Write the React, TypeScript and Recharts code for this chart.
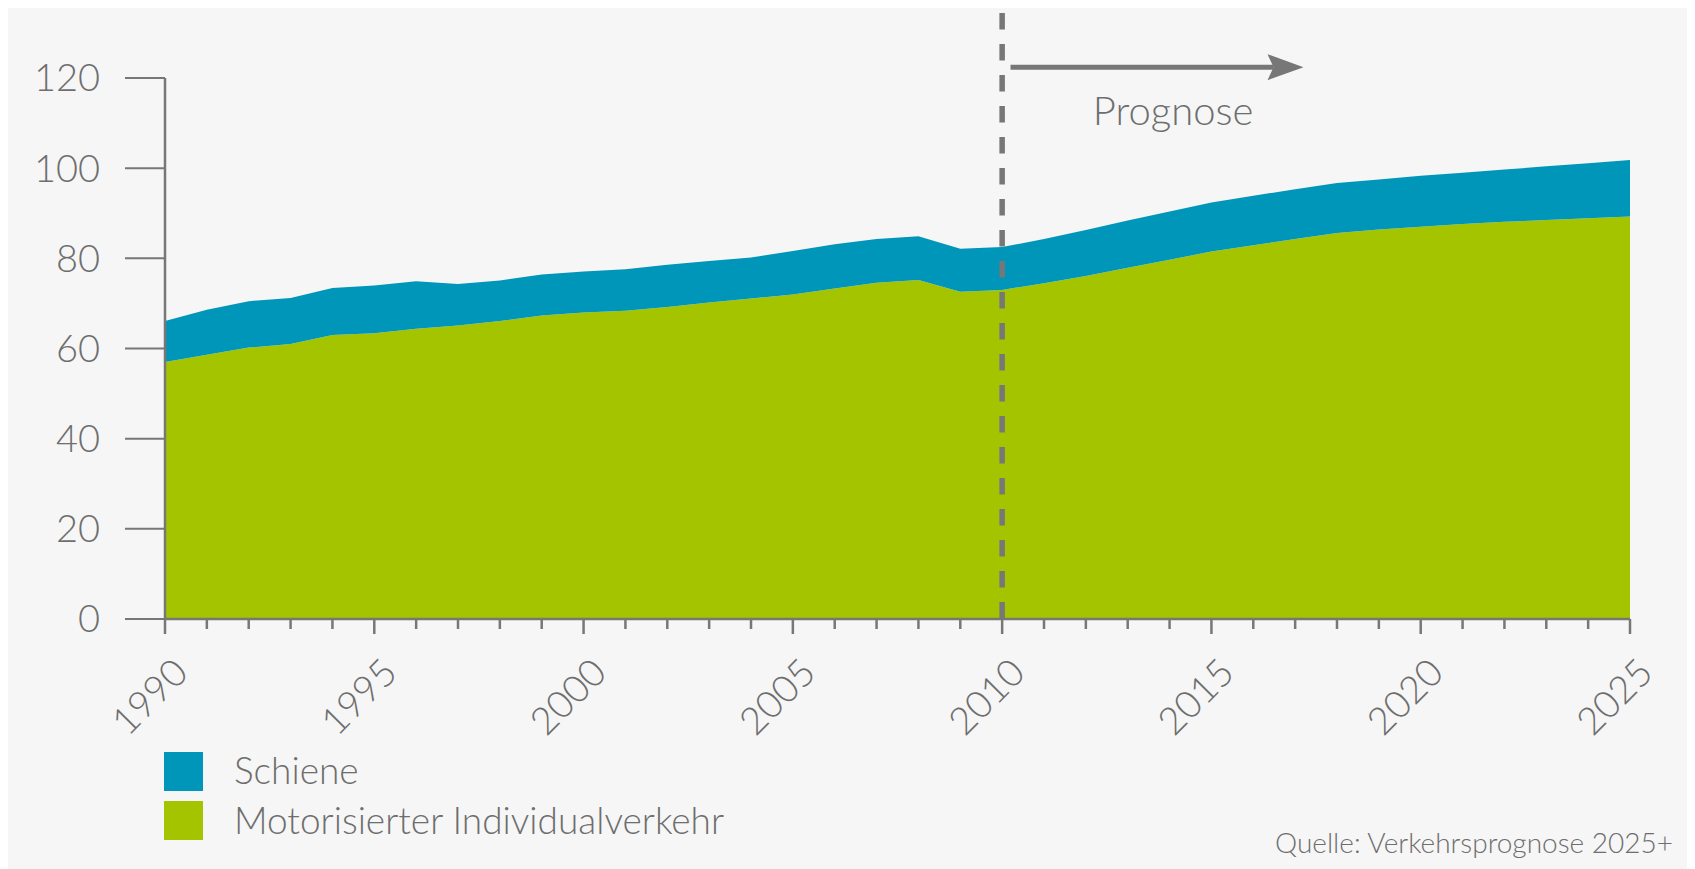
import { AreaChart, Area, XAxis, YAxis, ReferenceLine } from 'recharts';

const years = [
  1990, 1991, 1992, 1993, 1994, 1995, 1996, 1997, 1998, 1999,
  2000, 2001, 2002, 2003, 2004, 2005, 2006, 2007, 2008, 2009,
  2010, 2011, 2012, 2013, 2014, 2015, 2016, 2017, 2018, 2019,
  2020, 2021, 2022, 2023, 2024, 2025,
];

// Motorisierter Individualverkehr
const individualverkehr = [
  57.0, 58.6, 60.2, 61.0, 63.0, 63.4, 64.4, 65.1, 66.1, 67.3,
  68.0, 68.4, 69.2, 70.2, 71.1, 72.0, 73.3, 74.6, 75.2, 72.6,
  73.0, 74.5, 76.1, 77.9, 79.7, 81.5, 82.9, 84.3, 85.6, 86.4,
  87.0, 87.6, 88.1, 88.5, 88.9, 89.3,
];

// Schiene (stacked on top)
const schiene = [
  9.1, 10.0, 10.3, 10.2, 10.4, 10.6, 10.5, 9.2, 9.0, 9.1,
  9.1, 9.2, 9.4, 9.2, 9.1, 9.6, 9.8, 9.7, 9.7, 9.5,
  9.5, 9.8, 10.2, 10.5, 10.7, 10.9, 11.0, 11.0, 11.1, 11.1,
  11.3, 11.4, 11.6, 11.9, 12.2, 12.5,
];

const yTicks = [0, 20, 40, 60, 80, 100, 120];
const prognoseStart = 2010;

const data = years.map((year, i) => ({
  year,
  miv: individualverkehr[i],
  schiene: schiene[i],
}));

const GRAY = '#777777';
const TEXT = '#6e6e6e';
const BLUE = '#0096b9';
const GREEN = '#a5c400';
const FONT = "Lato, 'Open Sans', sans-serif";

const YearTick = (props: any) => {
  const { x, y, payload } = props;
  const major = payload.value % 5 === 0;
  return (
    <g>
      <line x1={x} y1={y} x2={x} y2={y + (major ? 15 : 10)} stroke={GRAY} strokeWidth={2.5} />
      {major && (
        <text
          x={x + 25}
          y={y + 56}
          textAnchor="end"
          fill={TEXT}
          fontSize={38}
          fontFamily={FONT}
          fontWeight={300}
          transform={`rotate(-45, ${x + 25}, ${y + 56})`}
        >
          {payload.value}
        </text>
      )}
    </g>
  );
};

const PrognoseArrow = (props: any) => {
  const { x1, y1, x2 } = props;
  const len = x2 - x1;
  return (
    <g>
      <line x1={x1} y1={y1} x2={x2 - 30} y2={y1} stroke={GRAY} strokeWidth={5} />
      <polygon
        points={`${x2},${y1} ${x2 - 36},${y1 - 13} ${x2 - 30},${y1} ${x2 - 36},${y1 + 13}`}
        fill={GRAY}
      />
      <text
        x={x1 + len * 0.555}
        y={y1 + 58}
        textAnchor="middle"
        fill={TEXT}
        fontSize={40}
        fontFamily={FONT}
        fontWeight={300}
      >
        Prognose
      </text>
    </g>
  );
};

export default function App() {
  return (
    <div style={{ position: 'relative', width: 1687, height: 861, background: '#f6f6f6' }}>
      <style>{`html,body{overflow:hidden}`}</style>
      <AreaChart
        width={1687}
        height={861}
        data={data}
        margin={{ top: 70, right: 65, bottom: 150, left: 0 }}
      >
        <XAxis
          dataKey="year"
          type="number"
          domain={[1990, 2025]}
          ticks={years}
          interval={0}
          height={100}
          tickSize={0}
          tickMargin={0}
          tickLine={false}
          axisLine={{ stroke: GRAY, strokeWidth: 2.5 }}
          tick={<YearTick />}
        />
        <YAxis
          domain={[0, 120]}
          ticks={yTicks}
          width={157}
          tickSize={40}
          tickMargin={25}
          axisLine={{ stroke: GRAY, strokeWidth: 2.5 }}
          tickLine={{ stroke: GRAY, strokeWidth: 2 }}
          tick={{ fill: TEXT, fontSize: 38, fontFamily: FONT, fontWeight: 300 }}
        />
        <Area
          type="linear"
          dataKey="miv"
          stackId="a"
          stroke="none"
          fill={GREEN}
          fillOpacity={1}
          isAnimationActive={false}
        />
        <Area
          type="linear"
          dataKey="schiene"
          stackId="a"
          stroke="none"
          fill={BLUE}
          fillOpacity={1}
          isAnimationActive={false}
        />
        <ReferenceLine
          segment={[{ x: prognoseStart, y: 134.4 }, { x: prognoseStart, y: 0 }]}
          ifOverflow="visible"
          stroke={GRAY}
          strokeWidth={5.5}
          strokeDasharray="16.5 14.5"
        />
        <ReferenceLine
          segment={[{ x: 2010.2, y: 122.4 }, { x: 2017.2, y: 122.4 }]}
          ifOverflow="visible"
          stroke={GRAY}
          shape={<PrognoseArrow />}
        />
      </AreaChart>
      <svg
        width={1687}
        height={861}
        style={{ position: 'absolute', left: 0, top: 0, pointerEvents: 'none' }}
      >
        <rect x={156} y={744} width={39} height={39} fill={BLUE} />
        <rect x={156} y={793} width={39} height={39} fill={GREEN} />
        <text x={226} y={776} fill={TEXT} fontSize={37} fontFamily={FONT} fontWeight={300}>
          Schiene
        </text>
        <text x={226} y={826} fill={TEXT} fontSize={37} fontFamily={FONT} fontWeight={300}>
          Motorisierter Individualverkehr
        </text>
        <text
          x={1665}
          y={845}
          textAnchor="end"
          fill={TEXT}
          fontSize={28}
          fontFamily={FONT}
          fontWeight={300}
        >
          Quelle: Verkehrsprognose 2025+
        </text>
      </svg>
    </div>
  );
}
